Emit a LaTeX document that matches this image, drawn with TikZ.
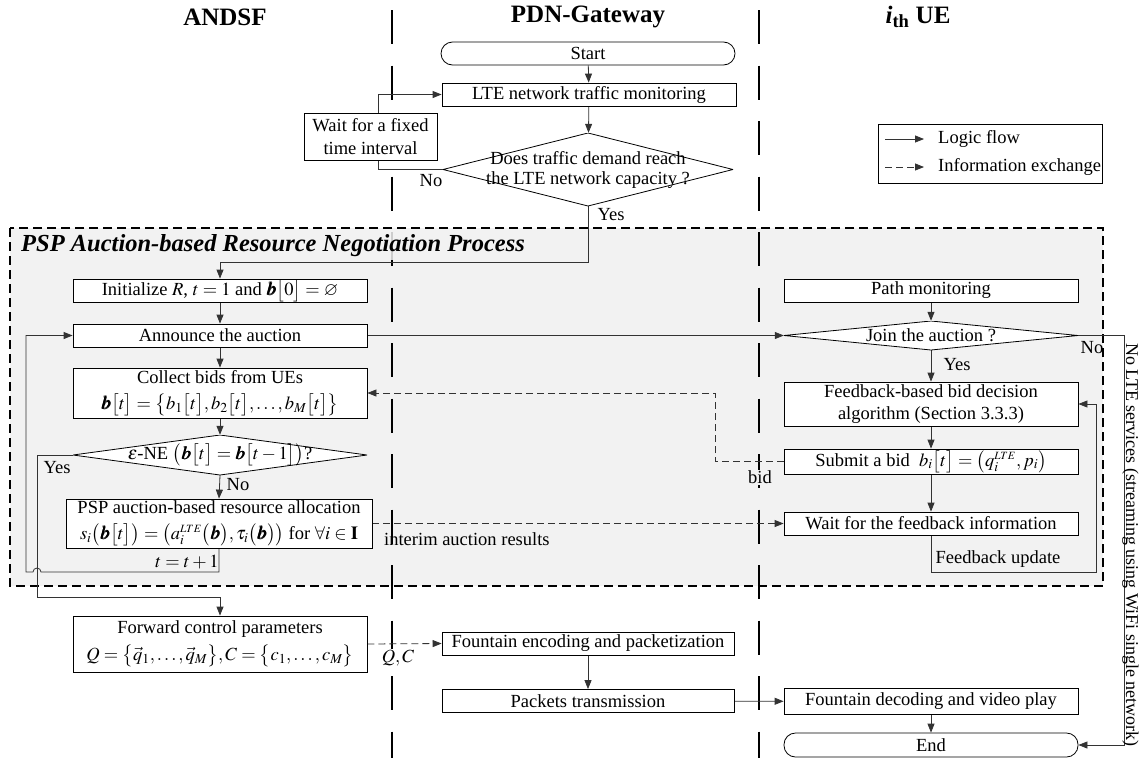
\documentclass[tikz,border=0pt]{standalone}
\usepackage{amsmath,amssymb}
\usepackage{mathptmx}
\usepackage{bm}
\usepackage[no-math]{fontspec}
\setmainfont{Liberation Serif}
\usetikzlibrary{arrows.meta}
\pgfdeclarelayer{back}\pgfdeclarelayer{conn}\pgfsetlayers{back,conn,main}
\newcommand\myfs{\fontsize{18.5}{22.5}\selectfont}
\begin{document}
\begin{tikzpicture}[x=1pt,y=-1pt,
  box/.style={draw=black, fill=white, line width=0.8pt, inner sep=0pt, minimum width=294pt, minimum height=23pt, font=\myfs, align=center},
  term/.style={box, rounded corners=11.5pt},
  diam/.style={inner sep=0pt, font=\myfs, align=center, path picture={\draw[line width=0.8pt, fill=white] (path picture bounding box.north) -- (path picture bounding box.east) -- (path picture bounding box.south) -- (path picture bounding box.west) -- cycle;}},
  lbl/.style={font=\myfs, inner sep=1pt},
  arr/.style={draw=black!80, line width=0.8pt, -{Triangle[length=9pt,width=7pt]}},
  info/.style={arr, dash pattern=on 7pt off 4pt},
  lane/.style={draw=black, line width=2.4pt, dash pattern=on 34pt off 21.5pt},
  ttl/.style={font=\fontsize{25}{28}\selectfont\bfseries}
]
\useasboundingbox (0,0) rectangle (1142,758);

% region and lanes
\begin{pgfonlayer}{back}
\draw[fill=gray!10, line width=2pt, dash pattern=on 9pt off 5pt] (10,228) rectangle (1103,586);
\draw[lane] (392,10) -- (392,758);
\draw[lane] (759,10) -- (759,758);
\end{pgfonlayer}

% lane titles
\node[ttl] (hA) at (225,17) {ANDSF};
\node[ttl] (hP) at (588,17) {PDN-Gateway};
\node[ttl] (hU) at (918,17) {{\itshape i}\textsubscript{th} UE};

% PDN-Gateway top
\node[term] (start) at (588,53.5) {Start};
\node[box] (lte) at (589,94.5) {LTE network traffic monitoring};
\node[diam, minimum width=290pt, minimum height=73pt, font=\fontsize{18.5}{20}\selectfont] (d1) at (588,169.5) {Does traffic demand reach\\the LTE network capacity ?};
\node[box, minimum width=133pt, minimum height=47pt] (wait) at (370.5,136.5) {Wait for a fixed\\time interval};

% region title
\node[font=\fontsize{24.5}{28}\selectfont\bfseries\itshape, fill=gray!10, fill opacity=0.85, text opacity=1, inner xsep=5pt, inner ysep=3pt, anchor=west] (ptitle) at (16,246) {PSP Auction-based Resource Negotiation Process};

% ANDSF column
\node[box] (init) at (220,290.5) {Initialize $R$,\ $t=1$ and $\bm{b}\bigl[0\bigr]=\varnothing$};
\node[box] (ann) at (220,335.5) {Announce the auction};
\node[box, minimum height=50pt] (col) at (220,393) {Collect bids from UEs\\[4pt]$\bm{b}\bigl[t\bigr]=\bigl\{b_1\bigl[t\bigr],b_2\bigl[t\bigr],\ldots,b_M\bigl[t\bigr]\bigr\}$};
\node[diam, minimum width=294pt, minimum height=40pt] (d2) at (220,455) {$\varepsilon$-NE $\bigl(\bm{b}\bigl[t\bigr]=\bm{b}\bigl[t-1\bigr]\bigr)$?};
\node[box, minimum width=306pt, minimum height=49pt] (alloc) at (219,523.5) {PSP auction-based resource allocation\\[3pt]$s_i\bigl(\bm{b}\bigl[t\bigr]\bigr)=\bigl(a_i^{\scriptscriptstyle LTE}\bigl(\bm{b}\bigr),\tau_i\bigl(\bm{b}\bigr)\bigr)$ for $\forall i\in\mathbf{I}$};
\node[box, minimum height=56pt] (fwd) at (220,644) {Forward control parameters\\[4pt]$Q=\bigl\{\vec{q}_1,\ldots,\vec{q}_M\bigr\},C=\bigl\{c_1,\ldots,c_M\bigr\}$};

% PDN bottom
\node[box, minimum width=292pt] (enc) at (588,643.5) {Fountain encoding and packetization};
\node[box, minimum width=292pt] (pkt) at (588,701) {Packets transmission};

% UE column
\node[box] (path) at (931,290.5) {Path monitoring};
\node[diam, minimum width=294pt, minimum height=29pt] (join) at (931,335.5) {Join the auction ?};
\node[box, minimum height=44pt] (fb) at (931,404) {Feedback-based bid decision\\algorithm (Section 3.3.3)};
\node[box, minimum height=25pt] (sub) at (931,461.5) {Submit a bid\ \ $b_i\bigl[t\bigr]=\bigl(q_i^{\scriptscriptstyle LTE},p_i\bigr)$};
\node[box] (wfb) at (931,523.5) {Wait for the feedback information};
\node[box, minimum height=26pt] (fdec) at (931,701.5) {Fountain decoding and video play};
\node[term, minimum height=24pt] (end) at (931,745) {End};

% legend
\node[draw, line width=0.8pt, minimum width=224pt, minimum height=59pt, inner sep=0pt] (leg) at (990,153.5) {};
\coordinate (l1a) at (885,139); \coordinate (l1b) at (924,139);
\coordinate (l2a) at (885,167); \coordinate (l2b) at (924,167);
\node[lbl, anchor=west] (lt1) at (937,139) {Logic flow};
\node[lbl, anchor=west] (lt2) at (937,167) {Information exchange};

% labels
\node[lbl] (no1) at (431,181) {No};
\node[lbl] (yes1) at (611,215) {Yes};
\node[lbl] (yes2) at (57,468) {Yes};
\node[lbl] (no2) at (238,485) {No};
\node[lbl] (tinc) at (187,562) {$t=t+1$};
\node[lbl, anchor=west] (interim) at (383,539) {interim auction results};
\node[lbl, fill=gray!10] (bidl) at (760,477) {bid};
\node[lbl, fill=white] (qc) at (398,658) {$Q,C$};
\node[lbl] (yes3) at (957,365) {Yes};
\node[lbl] (no3) at (1092,348) {No};
\node[lbl] (fbu) at (998,559) {Feedback update};
\node[font=\fontsize{18}{20}\selectfont, inner sep=0pt, rotate=-90, anchor=south] (nolte) at (1122,545) {No LTE services (streaming using WiFi single network)};

% connectors
\begin{pgfonlayer}{conn}
\draw[arr] (start) -- (lte);
\draw[arr] (lte) -- (d1);
\draw[arr] (d1.west) -- (378,169.5) |- (lte.west);
\draw[arr] (d1.south) -- (588,262) -| (init.north);
\draw[arr] (init) -- (ann);
\draw[arr] (ann) -- (col);
\draw[arr] (col) -- (d2.north);
\draw[arr] (d2.south) -- (alloc.north);
\draw[arr] (alloc.south) -- (219,572) -- (41,572) arc[start angle=0, end angle=180, radius=4pt] -- (26,572) |- (ann.west);
\draw[arr] (d2.west) -- (37,455) -- (37,597) -| (fwd.north);
\draw[info] (fwd.east) -- (enc.west);
\draw[arr] (enc) -- (pkt);
\draw[arr] (pkt) -- (fdec);
\draw[arr] (fdec) -- (end);
\draw[arr] (ann.east) -- (join.west);
\draw[arr] (path) -- (join.north);
\draw[arr] (join.south) -- (fb);
\draw[arr] (join.east) -- (1124,335.5) |- (end.east);
\draw[arr] (fb) -- (sub);
\draw[arr] (sub) -- (wfb);
\draw[arr] (wfb.south) -- (931,572) -| (1096,404) -- (fb.east);
\draw[info] (sub.west) -- (715,461.5) |- (col.east);
\draw[info] (alloc.east) -- (wfb.west);
\draw[arr] (l1a) -- (l1b);
\draw[info] (l2a) -- (l2b);
\end{pgfonlayer}
\end{tikzpicture}
\end{document}
